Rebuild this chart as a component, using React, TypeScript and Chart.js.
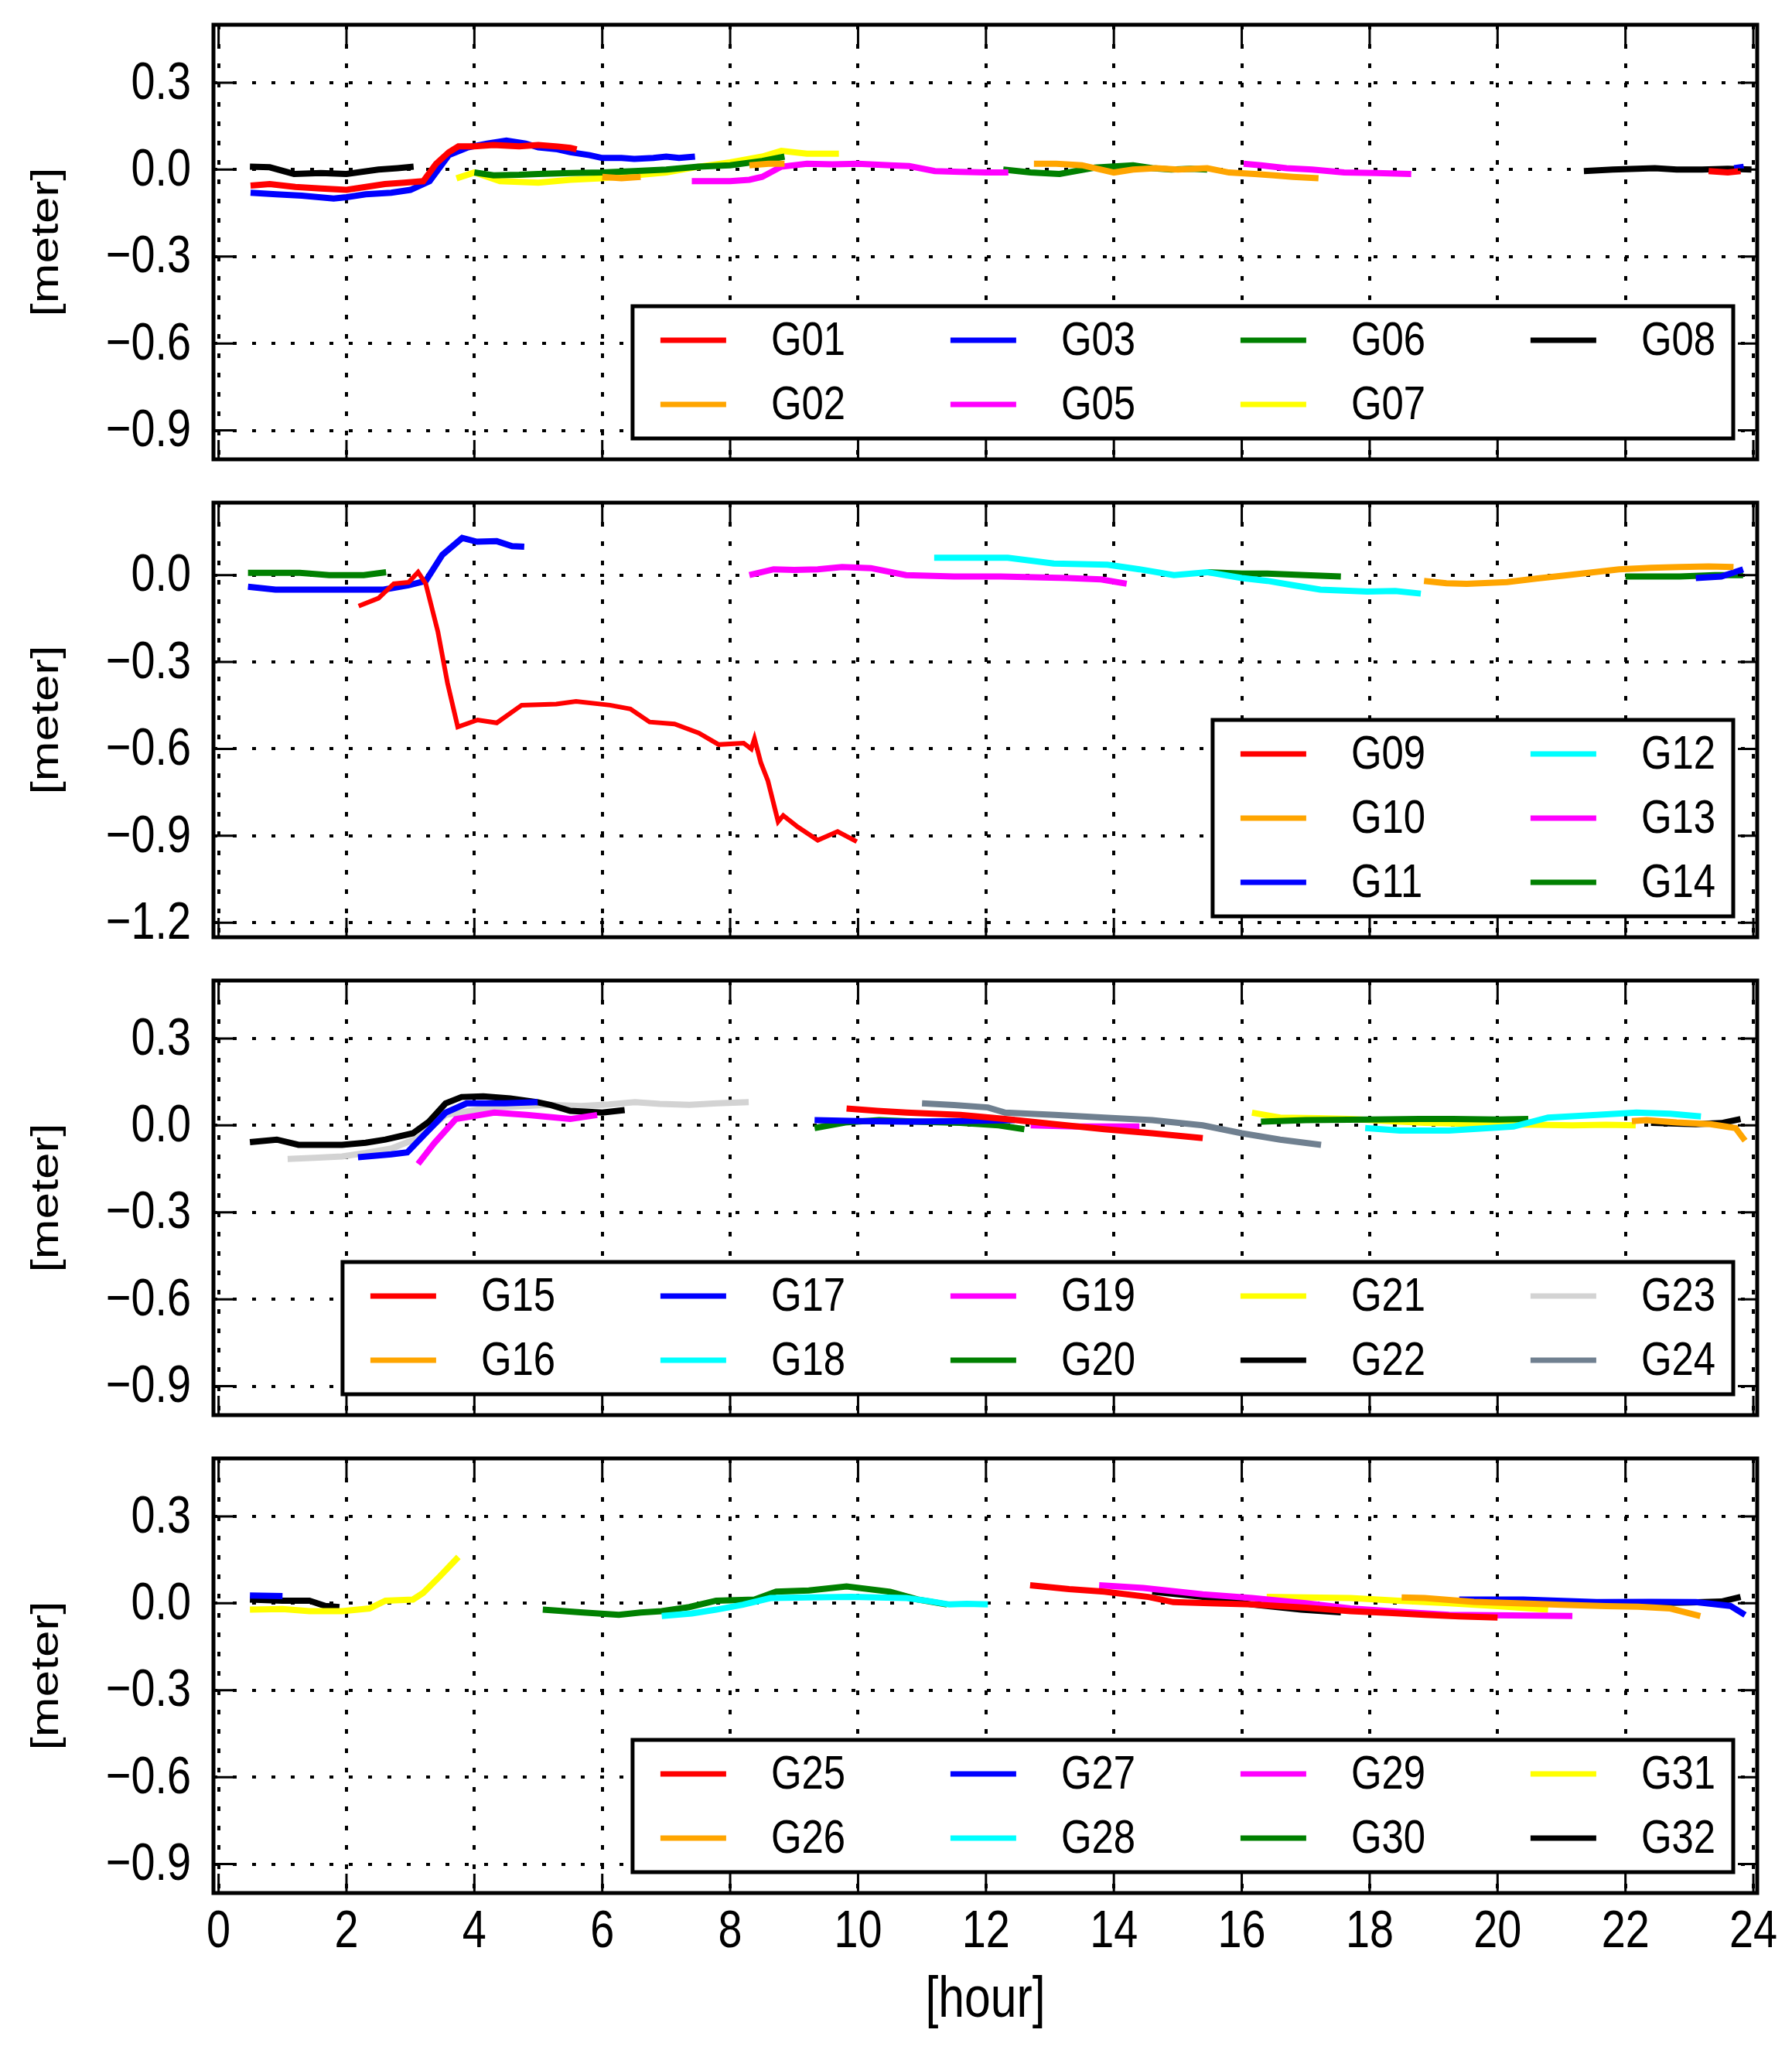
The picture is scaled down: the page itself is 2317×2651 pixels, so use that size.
import React, { useEffect, useRef } from 'react';
import Chart from 'chart.js/auto';

type Pt = [number, number] | null;

// axis ticks
const hourTicks = [0, 2, 4, 6, 8, 10, 12, 14, 16, 18, 20, 22, 24];
const meterTicks = [0.3, 0.0, -0.3, -0.6, -0.9];
const meterTicksDeep = [0.0, -0.3, -0.6, -0.9, -1.2];

// [hour, meter] per satellite, null = gap in the track
const G01: Pt[] = [[0.5, -0.055], [0.8, -0.05], [1.2, -0.06], [1.6, -0.065], [2.0, -0.07], [2.3, -0.06], [2.6, -0.05], [2.9, -0.045], [3.2, -0.04], [3.4, 0.02], [3.6, 0.06], [3.75, 0.08], [4.0, 0.08], [4.3, 0.085], [4.7, 0.08], [5.0, 0.085], [5.3, 0.08], [5.5, 0.075], [5.6, 0.07], null, [23.3, -0.005], [23.6, -0.01], [23.8, -0.005]];
const G02: Pt[] = [[6.0, -0.025], [6.3, -0.03], [6.6, -0.025], null, [8.3, 0.015], [8.6, 0.02], [8.85, 0.02], null, [12.75, 0.02], [13.1, 0.02], [13.5, 0.015], [13.8, 0.0], [14.0, -0.01], [14.3, 0.0], [14.66, 0.005], [15.0, 0.0], [15.46, 0.005], [15.8, -0.01], [16.2, -0.015], [16.5, -0.02], [16.8, -0.025], [17.2, -0.03]];
const G03: Pt[] = [[0.5, -0.08], [0.9, -0.085], [1.3, -0.09], [1.8, -0.1], [2.0, -0.095], [2.3, -0.085], [2.7, -0.08], [3.0, -0.07], [3.3, -0.04], [3.6, 0.05], [3.9, 0.077], [4.2, 0.09], [4.5, 0.1], [4.8, 0.09], [5.0, 0.077], [5.3, 0.07], [5.5, 0.06], [5.8, 0.05], [6.0, 0.04], [6.3, 0.04], [6.5, 0.037], [6.8, 0.04], [7.0, 0.045], [7.2, 0.04], [7.45, 0.045], null, [23.7, 0.005], [23.85, 0.01]];
const G05: Pt[] = [[7.4, -0.04], [7.7, -0.04], [8.0, -0.04], [8.3, -0.035], [8.5, -0.025], [8.8, 0.01], [9.2, 0.02], [9.6, 0.018], [10.0, 0.02], [10.5, 0.015], [10.8, 0.012], [11.2, -0.005], [11.6, -0.008], [12.0, -0.01], [12.35, -0.01], null, [16.03, 0.02], [16.3, 0.015], [16.7, 0.005], [17.1, 0.0], [17.6, -0.01], [18.1, -0.012], [18.65, -0.015]];
const G06: Pt[] = [[4.0, -0.01], [4.3, -0.02], [4.7, -0.018], [5.0, -0.015], [5.5, -0.012], [6.0, -0.01], [6.5, -0.005], [7.0, 0.0], [7.5, 0.01], [8.0, 0.015], [8.5, 0.03], [8.85, 0.045], null, [12.27, 0.0], [12.7, -0.01], [13.15, -0.015], [13.7, 0.007], [14.3, 0.015], [14.6, 0.005], [14.9, 0.0], [15.2, 0.003], [15.46, 0.0]];
const G07: Pt[] = [[3.72, -0.03], [4.0, -0.01], [4.4, -0.04], [5.0, -0.045], [5.5, -0.035], [6.0, -0.03], [6.5, -0.02], [7.0, -0.01], [7.5, 0.01], [8.0, 0.025], [8.5, 0.045], [8.8, 0.065], [9.2, 0.055], [9.7, 0.055]];
const G08: Pt[] = [[0.49, 0.01], [0.8, 0.008], [1.18, -0.015], [1.6, -0.012], [2.0, -0.015], [2.5, 0.0], [2.8, 0.005], [3.05, 0.01], null, [21.35, -0.005], [21.8, 0.0], [22.46, 0.005], [22.8, 0.0], [23.2, 0.0], [23.6, 0.003], [23.97, 0.0]];

const G09: Pt[] = [[2.19, -0.107], [2.5, -0.08], [2.74, -0.03], [2.97, -0.025], [3.12, 0.01], [3.24, -0.03], [3.43, -0.196], [3.58, -0.373], [3.74, -0.524], [4.05, -0.5], [4.35, -0.51], [4.74, -0.449], [5.28, -0.445], [5.59, -0.436], [6.12, -0.449], [6.44, -0.462], [6.74, -0.507], [7.13, -0.514], [7.51, -0.545], [7.82, -0.585], [8.21, -0.58], [8.33, -0.6], [8.38, -0.565], [8.48, -0.648], [8.59, -0.71], [8.75, -0.851], [8.83, -0.83], [9.06, -0.87], [9.37, -0.915], [9.68, -0.885], [9.98, -0.92]];
const G10: Pt[] = [[18.85, -0.02], [19.2, -0.028], [19.52, -0.03], [20.15, -0.024], [20.6, -0.012], [21.1, 0.0], [21.5, 0.01], [21.9, 0.02], [22.4, 0.025], [22.85, 0.028], [23.3, 0.03], [23.69, 0.028]];
const G11: Pt[] = [[0.46, -0.04], [0.89, -0.05], [1.4, -0.05], [1.96, -0.05], [2.58, -0.05], [2.97, -0.035], [3.24, -0.02], [3.5, 0.07], [3.81, 0.128], [4.04, 0.115], [4.35, 0.117], [4.59, 0.1], [4.78, 0.098], null, [23.1, -0.01], [23.5, -0.005], [23.84, 0.02]];
const G12: Pt[] = [[11.19, 0.06], [11.8, 0.06], [12.34, 0.06], [13.06, 0.04], [13.9, 0.036], [14.4, 0.02], [14.94, 0.0], [15.46, 0.01], [16.0, -0.01], [16.4, -0.02], [16.8, -0.035], [17.23, -0.05], [17.96, -0.057], [18.4, -0.055], [18.8, -0.064]];
const G13: Pt[] = [[8.3, 0.0], [8.68, 0.02], [9.0, 0.018], [9.37, 0.02], [9.75, 0.028], [10.2, 0.024], [10.75, 0.0], [11.5, -0.005], [12.23, -0.005], [13.28, -0.01], [13.8, -0.015], [14.2, -0.03]];
const G14: Pt[] = [[0.46, 0.008], [1.27, 0.008], [1.73, 0.0], [2.27, 0.0], [2.62, 0.01], null, [15.46, 0.01], [16.0, 0.005], [16.4, 0.005], [17.0, 0.0], [17.55, -0.005], null, [22.0, -0.005], [22.85, -0.005], [23.4, 0.0], [23.84, 0.0]];

const G15: Pt[] = [[9.82, 0.058], [10.3, 0.05], [10.76, 0.044], [11.6, 0.036], [12.3, 0.022], [13.08, 0.004], [13.85, -0.013], [14.6, -0.027], [15.39, -0.044]];
const G16: Pt[] = [[22.1, 0.015], [22.33, 0.018], [22.8, 0.01], [23.33, 0.004], [23.72, -0.009], [23.87, -0.053]];
const G17: Pt[] = [[2.18, -0.11], [2.7, -0.1], [2.95, -0.093], [3.2, -0.036], [3.55, 0.044], [3.88, 0.076], [4.48, 0.076], [4.99, 0.08], null, [9.32, 0.018], [10.0, 0.015], [10.76, 0.013], [11.6, 0.015], [12.45, 0.018]];
const G18: Pt[] = [[17.93, -0.009], [18.47, -0.018], [19.24, -0.018], [20.25, -0.004], [20.79, 0.027], [21.55, 0.036], [22.17, 0.044], [22.7, 0.04], [23.18, 0.031]];
const G19: Pt[] = [[3.12, -0.133], [3.37, -0.062], [3.71, 0.022], [4.31, 0.044], [4.82, 0.036], [5.5, 0.022], [5.92, 0.036], null, [12.7, 0.0], [13.4, -0.004], [14.4, -0.004]];
const G20: Pt[] = [[9.32, -0.009], [9.8, 0.01], [10.33, 0.018], [11.0, 0.012], [11.6, 0.009], [12.2, 0.0], [12.6, -0.013], null, [16.3, 0.013], [17.0, 0.018], [18.0, 0.02], [18.78, 0.022], [19.3, 0.022], [20.0, 0.02], [20.48, 0.022]];
const G21: Pt[] = [[16.16, 0.044], [16.6, 0.027], [17.2, 0.025], [17.7, 0.022], [18.3, 0.015], [18.86, 0.009], [19.4, 0.006], [20.0, 0.004], [20.6, 0.002], [21.17, 0.0], [21.7, 0.002], [22.16, 0.0]];
const G22: Pt[] = [[0.49, -0.058], [0.91, -0.049], [1.25, -0.067], [1.6, -0.067], [1.93, -0.067], [2.3, -0.06], [2.61, -0.049], [3.04, -0.027], [3.29, 0.013], [3.55, 0.076], [3.8, 0.098], [4.14, 0.1], [4.56, 0.093], [4.99, 0.08], [5.2, 0.07], [5.5, 0.05], [6.0, 0.044], [6.35, 0.053], null, [22.4, 0.009], [22.8, 0.006], [23.1, 0.004], [23.5, 0.008], [23.8, 0.022]];
const G23: Pt[] = [[1.08, -0.116], [1.5, -0.112], [1.93, -0.107], [2.3, -0.095], [2.7, -0.08], [3.12, -0.044], [3.55, 0.036], [4.14, 0.058], [4.6, 0.065], [5.16, 0.071], [5.67, 0.067], [6.1, 0.072], [6.51, 0.08], [6.9, 0.074], [7.36, 0.071], [7.8, 0.076], [8.29, 0.08]];
const G24: Pt[] = [[11.0, 0.076], [11.5, 0.07], [12.03, 0.062], [12.3, 0.044], [13.08, 0.036], [13.85, 0.027], [14.6, 0.018], [15.39, 0.0], [16.0, -0.027], [16.6, -0.049], [17.24, -0.067]];

const G25: Pt[] = [[12.69, 0.062], [13.3, 0.049], [13.85, 0.04], [14.54, 0.022], [14.93, 0.004], [15.5, 0.0], [16.16, -0.004], [17.0, -0.015], [17.7, -0.027], [18.3, -0.033], [18.86, -0.04], [19.4, -0.045], [20.0, -0.049]];
const G26: Pt[] = [[18.5, 0.02], [18.86, 0.018], [19.63, 0.005], [20.3, 0.0], [21.0, -0.005], [21.7, -0.01], [22.2, -0.012], [22.7, -0.018], [23.17, -0.044]];
const G27: Pt[] = [[0.49, 0.027], [1.0, 0.025], null, [19.4, 0.013], [20.4, 0.013], [21.55, 0.004], [22.4, 0.005], [23.1, 0.004], [23.64, -0.009], [23.87, -0.04]];
const G28: Pt[] = [[6.93, -0.044], [7.4, -0.035], [7.78, -0.022], [8.2, -0.005], [8.63, 0.018], [9.2, 0.02], [9.9, 0.022], [10.3, 0.02], [10.76, 0.018], [11.1, 0.008], [11.43, -0.004], [11.7, -0.002], [12.03, -0.004]];
const G29: Pt[] = [[13.77, 0.062], [14.46, 0.053], [15.39, 0.031], [16.16, 0.018], [17.0, 0.0], [17.7, -0.018], [18.5, -0.03], [19.24, -0.04], [20.2, -0.042], [21.17, -0.044]];
const G30: Pt[] = [[5.07, -0.022], [5.66, -0.031], [6.26, -0.04], [6.6, -0.032], [6.93, -0.027], [7.36, -0.013], [7.78, 0.009], [8.38, 0.013], [8.72, 0.04], [9.23, 0.044], [9.82, 0.058], [10.5, 0.04], [10.93, 0.013], [11.39, -0.004]];
const G31: Pt[] = [[0.49, -0.022], [1.0, -0.02], [1.42, -0.027], [1.93, -0.027], [2.36, -0.018], [2.61, 0.009], [3.04, 0.013], [3.2, 0.036], [3.46, 0.093], [3.75, 0.16], null, [16.39, 0.022], [17.0, 0.02], [17.7, 0.018], [18.5, 0.008], [19.24, 0.0], [20.0, -0.01], [20.79, -0.022]];
const G32: Pt[] = [[0.49, 0.013], [1.0, 0.009], [1.42, 0.009], [1.67, -0.009], [1.89, -0.013], null, [14.6, 0.04], [15.39, 0.022], [16.16, -0.004], [16.93, -0.022], [17.55, -0.031], null, [21.5, 0.0], [22.3, 0.0], [23.0, 0.003], [23.5, 0.006], [23.8, 0.022]];

const series: Record<string, Pt[]> = {
  G01, G02, G03, G05, G06, G07, G08,
  G09, G10, G11, G12, G13, G14,
  G15, G16, G17, G18, G19, G20, G21, G22, G23, G24,
  G25, G26, G27, G28, G29, G30, G31, G32,
};

// which satellites go in which panel (legend order)
const panelSats = [
  ['G01', 'G02', 'G03', 'G05', 'G06', 'G07', 'G08'],
  ['G09', 'G10', 'G11', 'G12', 'G13', 'G14'],
  ['G15', 'G16', 'G17', 'G18', 'G19', 'G20', 'G21', 'G22', 'G23', 'G24'],
  ['G25', 'G26', 'G27', 'G28', 'G29', 'G30', 'G31', 'G32'],
];
const panelRange: [number, number][] = [[-1.0, 0.5], [-1.25, 0.25], [-1.0, 0.5], [-1.0, 0.5]];
const panelYTicks = [meterTicks, meterTicksDeep, meterTicks, meterTicks];

const satColors: Record<string, string> = {
  G01: '#ff0000', G02: '#ffa500', G03: '#0000ff', G05: '#ff00ff', G06: '#008000', G07: '#ffff00', G08: '#000000',
  G09: '#ff0000', G10: '#ffa500', G11: '#0000ff', G12: '#00ffff', G13: '#ff00ff', G14: '#008000',
  G15: '#ff0000', G16: '#ffa500', G17: '#0000ff', G18: '#00ffff', G19: '#ff00ff', G20: '#008000',
  G21: '#ffff00', G22: '#000000', G23: '#d3d3d3', G24: '#708090',
  G25: '#ff0000', G26: '#ffa500', G27: '#0000ff', G28: '#00ffff', G29: '#ff00ff', G30: '#008000',
  G31: '#ffff00', G32: '#000000',
};

// layout
const W = 2317;
const H = 2651;
const AREA_LEFT = 276;
const AREA_RIGHT = 2272;
const PANEL_TOPS = [32, 650, 1268, 1886];
const PANEL_H = 562;
const PAD = 20;
const LEGEND_ROWS = [2, 3, 2, 2];
const FONT = '"Liberation Sans", Arial, sans-serif';
const SQUEEZE = 0.82; // condensed look of the original lettering

const fmtMeter = (v: number) => {
  if (Math.abs(v) < 1e-9) return '0.0';
  return (v < 0 ? '\u2212' : '') + Math.abs(v).toFixed(1);
};

function squeezedText(ctx: CanvasRenderingContext2D, text: string, x: number, y: number, size: number, align: CanvasTextAlign, rotate = false) {
  ctx.save();
  ctx.translate(x, y);
  ctx.scale(SQUEEZE, 1);
  if (rotate) ctx.rotate(-Math.PI / 2);
  ctx.font = `${size}px ${FONT}`;
  ctx.textAlign = align;
  ctx.textBaseline = 'middle';
  ctx.fillStyle = '#000';
  ctx.fillText(text, 0, 0);
  ctx.restore();
}

// frame, inward ticks, labels and boxed legend, matplotlib style
const framePlugin = {
  id: 'satLegend',
  afterDraw(chart: any, _args: any, opts: any) {
    const { ctx, chartArea: a, scales } = chart;
    ctx.save();
    ctx.strokeStyle = '#000';
    ctx.lineWidth = 3;
    ctx.beginPath();
    for (const t of scales.x.ticks) {
      const px = scales.x.getPixelForValue(t.value);
      ctx.moveTo(px, a.bottom);
      ctx.lineTo(px, a.bottom - 25);
      ctx.moveTo(px, a.top);
      ctx.lineTo(px, a.top + 25);
    }
    for (const t of scales.y.ticks) {
      const py = scales.y.getPixelForValue(t.value);
      ctx.moveTo(a.left, py);
      ctx.lineTo(a.left + 25, py);
      ctx.moveTo(a.right, py);
      ctx.lineTo(a.right - 25, py);
    }
    ctx.stroke();
    ctx.lineWidth = 5;
    ctx.strokeRect(a.left, a.top, a.right - a.left, a.bottom - a.top);

    // tick labels and axis titles
    for (const t of scales.y.ticks) {
      squeezedText(ctx, fmtMeter(t.value), a.left - 29, scales.y.getPixelForValue(t.value) + 2, 68, 'right');
    }
    squeezedText(ctx, '[meter]', 61, (a.top + a.bottom) / 2, 62, 'center', true);
    if (opts.showHours) {
      for (const t of scales.x.ticks) {
        squeezedText(ctx, String(t.value), scales.x.getPixelForValue(t.value), a.bottom + 51, 68, 'center');
      }
      squeezedText(ctx, '[hour]', (a.left + a.right) / 2, a.bottom + 140, 74, 'center');
    }

    // legend
    const rows = opts.rows || 2;
    const sets = chart.data.datasets;
    const cols = Math.ceil(sets.length / rows);
    ctx.font = `62px ${FONT}`;
    let maxText = 0;
    sets.forEach((d: any) => { maxText = Math.max(maxText, ctx.measureText(d.label).width * SQUEEZE); });
    const boxW = 36 + (cols - 1) * 375 + 143 + maxText + 23;
    const boxH = 88 + (rows - 1) * 83;
    const right = a.right - 31;
    const bottom = a.bottom - 27;
    const left = right - boxW;
    const top = bottom - boxH;
    ctx.fillStyle = '#fff';
    ctx.fillRect(left, top, boxW, boxH);
    ctx.strokeStyle = '#000';
    ctx.lineWidth = 5;
    ctx.strokeRect(left, top, boxW, boxH);
    sets.forEach((d: any, i: number) => {
      const col = Math.floor(i / rows);
      const row = i % rows;
      const x0 = left + 36 + col * 375;
      const y = top + 44 + row * 83;
      ctx.strokeStyle = d.borderColor;
      ctx.lineWidth = 7;
      ctx.beginPath();
      ctx.moveTo(x0, y);
      ctx.lineTo(x0 + 85, y);
      ctx.stroke();
      squeezedText(ctx, d.label, x0 + 143, y + 2, 62, 'left');
    });
    ctx.restore();
  },
};

const noPadding = (s: any) => {
  s.paddingTop = 0;
  s.paddingBottom = 0;
  s.paddingLeft = 0;
  s.paddingRight = 0;
};

function Panel({ idx }: { idx: number }) {
  const canvasRef = useRef<HTMLCanvasElement>(null);
  const last = idx === 3;
  const top = PANEL_TOPS[idx] - PAD;
  const height = last ? H - top : PANEL_H + 2 * PAD;

  useEffect(() => {
    if (!canvasRef.current) return;

    const datasets = panelSats[idx].map((name) => {
      const pts = series[name];
      return {
        label: name,
        data: pts.map((p, i) => (p ? { x: p[0], y: p[1] } : { x: (pts[i - 1] as [number, number])[0], y: null })),
        borderColor: satColors[name],
        borderWidth: name === 'G09' ? 6 : 8,
        pointRadius: 0,
        tension: 0,
        fill: false,
        spanGaps: false,
      };
    });

    const [yMin, yMax] = panelRange[idx];
    const yTicks = panelYTicks[idx];

    const chart = new Chart(canvasRef.current, {
      type: 'line',
      data: { datasets: datasets as any },
      options: {
        responsive: false,
        animation: false,
        devicePixelRatio: 1,
        layout: { padding: { top: PAD, right: W - AREA_RIGHT, left: 0, bottom: 0 } },
        plugins: {
          legend: { display: false },
          tooltip: { enabled: false },
          satLegend: { rows: LEGEND_ROWS[idx], showHours: last },
        } as any,
        scales: {
          x: {
            type: 'linear',
            min: -0.08,
            max: 24.06,
            afterBuildTicks: (s: any) => { s.ticks = hourTicks.map((v) => ({ value: v })); },
            afterFit: (s: any) => {
              s.height = last ? H - (PANEL_TOPS[3] + PANEL_H) : PAD;
              noPadding(s);
            },
            grid: { color: '#000', lineWidth: 4, drawTicks: false },
            border: { display: false, dash: [6, 19] },
            ticks: { display: false },
          },
          y: {
            min: yMin,
            max: yMax,
            afterBuildTicks: (s: any) => { s.ticks = yTicks.map((v) => ({ value: v })); },
            afterFit: (s: any) => {
              s.width = AREA_LEFT;
              noPadding(s);
            },
            grid: { color: '#000', lineWidth: 4, drawTicks: false },
            border: { display: false, dash: [5, 20] },
            ticks: { display: false },
          },
        },
      },
      plugins: [framePlugin],
    });

    return () => chart.destroy();
  }, [idx]);

  return (
    <canvas
      ref={canvasRef}
      width={W}
      height={height}
      style={{ position: 'absolute', left: 0, top, width: W, height }}
    />
  );
}

const App: React.FC = () => {
  useEffect(() => {
    document.body.style.margin = '0';
  }, []);

  return (
    <div style={{ position: 'relative', width: W, height: H, background: '#fff', overflow: 'hidden' }}>
      {panelSats.map((_, i) => (
        <Panel key={i} idx={i} />
      ))}
    </div>
  );
};

export default App;
